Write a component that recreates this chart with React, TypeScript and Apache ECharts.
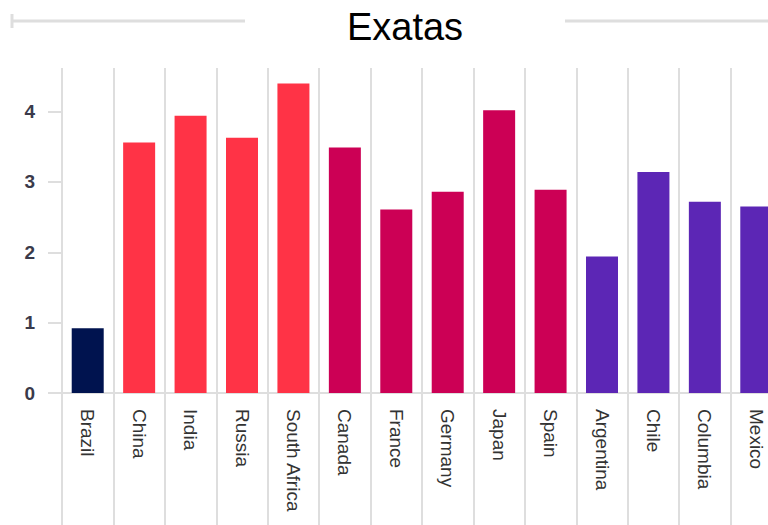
import React, { useEffect, useRef } from "react";
import * as echarts from "echarts";

const titleText = "Exatas";
const categories = [
  "Brazil", "China", "India", "Russia", "South Africa",
  "Canada", "France", "Germany", "Japan", "Spain",
  "Argentina", "Chile", "Columbia", "Mexico",
];
const values = [0.92, 3.56, 3.94, 3.63, 4.4, 3.49, 2.61, 2.86, 4.02, 2.89, 1.94, 3.14, 2.72, 2.65];
const groups = [0, 1, 1, 1, 1, 2, 2, 2, 2, 2, 3, 3, 3, 3];
const groupColors = ["#00134f", "#ff3346", "#cc0055", "#5c26b5"];
const yTicks = [0, 1, 2, 3, 4];

export default function App() {
  const ref = useRef<HTMLDivElement>(null);
  useEffect(() => {
    if (!ref.current) return;
    const chart = echarts.init(ref.current, undefined, { renderer: "svg" });
    const gridLine = "#dedede";
    chart.setOption({
      animation: false,
      backgroundColor: "#ffffff",
      grid: [
        { left: 62, right: 0, top: 68, bottom: 132 },
        { left: 62, right: 0, top: 68, bottom: -10 },
      ],
      xAxis: [
        {
          type: "category",
          gridIndex: 0,
          data: categories,
          axisLine: { show: true, lineStyle: { color: gridLine, width: 2 } },
          axisTick: { show: false },
          splitLine: { show: false },
          axisLabel: {
            interval: 0,
            rotate: -90,
            margin: 16,
            color: "#333",
            fontSize: 19,
            fontFamily: "'Liberation Sans', Arial, sans-serif",
          },
        },
        {
          type: "category",
          gridIndex: 1,
          data: categories,
          axisLine: { show: false },
          axisTick: { show: false },
          axisLabel: { show: false, interval: 0 },
          splitLine: { show: true, interval: 0, lineStyle: { color: gridLine, width: 2 } },
        },
      ],
      yAxis: [
        {
          type: "value",
          gridIndex: 0,
          min: 0,
          max: 4.62,
          interval: 1,
          axisLine: { show: false },
          splitLine: { show: false },
          axisTick: {
            show: true,
            length: 14,
            customValues: yTicks,
            lineStyle: { color: gridLine, width: 2 },
          },
          axisLabel: {
            customValues: yTicks,
            margin: 27,
            color: "#3a3a4a",
            fontSize: 19,
            fontWeight: "bold",
            fontFamily: "'Liberation Sans', Arial, sans-serif",
          },
        },
        {
          type: "value",
          gridIndex: 1,
          min: 0,
          max: 1,
          show: false,
        },
      ],
      graphic: [
        {
          type: "text",
          x: 405,
          y: 27,
          style: {
            text: titleText,
            fill: "#000",
            fontSize: 38,
            fontFamily: "'Liberation Sans', Arial, sans-serif",
            textAlign: "center",
            textVerticalAlign: "middle",
          },
        },
        { type: "line", shape: { x1: 12, y1: 21, x2: 245, y2: 21 }, style: { stroke: gridLine, lineWidth: 3 } },
        { type: "line", shape: { x1: 12, y1: 14, x2: 12, y2: 28 }, style: { stroke: gridLine, lineWidth: 3 } },
        { type: "line", shape: { x1: 565, y1: 21, x2: 768, y2: 21 }, style: { stroke: gridLine, lineWidth: 3 } },
      ],
      series: [
        {
          type: "bar",
          xAxisIndex: 0,
          yAxisIndex: 0,
          barWidth: 32,
          data: values.map((v, i) => ({ value: v, itemStyle: { color: groupColors[groups[i]] } })),
        },
      ],
    });
    return () => chart.dispose();
  }, []);
  return (
    <div style={{ position: "fixed", left: 0, top: 0, width: 768, height: 525, overflow: "hidden" }}>
      <div ref={ref} style={{ width: 782, height: 525 }} />
    </div>
  );
}
